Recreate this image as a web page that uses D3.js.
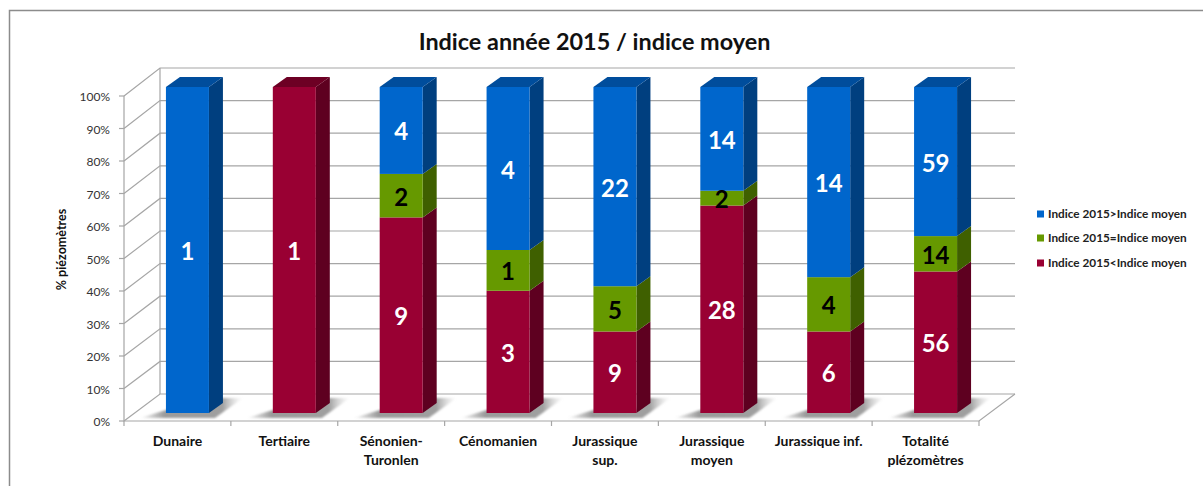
<!DOCTYPE html>
<html><head><meta charset="utf-8">
<script src="https://cdn.jsdelivr.net/npm/d3@7"></script>
<style>html,body{margin:0;background:#fff}svg{display:block}text{font-family:Lato,"Open Sans",sans-serif}</style>
</head><body><svg id="c" width="1203" height="486"></svg>
<script>
const categories=[["Dunaire"],["Tertiaire"],["Sénonien-","Turonlen"],["Cénomanien"],["Jurassique","sup."],["Jurassique","moyen"],["Jurassique inf."],["Totalité","plézomètres"]];
const below=[0,1,9,3,9,28,6,56];
const equal=[0,0,2,1,5,2,4,14];
const above=[1,0,4,4,22,14,14,59];
const ticks=d3.range(0,101,10);
const seriesNames=["Indice 2015<Indice moyen","Indice 2015=Indice moyen","Indice 2015>Indice moyen"];
const colors=["#990033","#669900","#0066cc"];
const sideColors=["#5e0020","#3f6000","#003f7f"];
const topColors=["#6d0024","#4a6f00","#004d9c"];
const legendColors=["#0066cc","#669900","#990033"];
const legendNames=[seriesNames[2],seriesNames[1],seriesNames[0]];
const title="Indice année 2015 / indice moyen";
const yTitle="% piézomètres";

const svg=d3.select("#c");
const rows=categories.map((c,i)=>({i,below:below[i],equal:equal[i],above:above[i]}));
const stack=d3.stack().keys(["below","equal","above"]).offset(d3.stackOffsetExpand)(rows);

const x=d3.scaleBand().domain(d3.range(8)).range([124,979]);
const yFront=d3.scaleLinear().domain([0,100]).range([421,96]);
const yBack=d3.scaleLinear().domain([0,100]).range([394,68]);
const yBar=d3.scaleLinear().domain([0,1]).range([413,87]);
const backDx=36,barDepthX=14,barDepthY=10,barW=43,barShift=10;

// frame
svg.append("path").attr("d","M9.5,486V10.5H1203").attr("fill","none").attr("stroke","#8c8c8c").attr("stroke-width",1.5);

// title
svg.append("text").attr("x",594.5).attr("y",50).attr("text-anchor","middle").attr("font-size",23.4).attr("font-weight",700).attr("fill","#111").text(title);

const grid=svg.append("g").attr("fill","none").attr("stroke","#a6a6a6").attr("stroke-width",1.2);
ticks.forEach(t=>{
  grid.append("path").attr("d",`M124,${yFront(t)}L${124+backDx},${yBack(t)}H${979+backDx}`);
});
grid.append("path").attr("d",`M${124+backDx},${yBack(0)}V${yBack(100)}`);
grid.append("path").attr("d",`M124,${yFront(100)}V421H979L${979+backDx},${yBack(0)}`);

d3.range(9).forEach(i=>{
  const px=124+i*x.step();
  grid.append("line").attr("x1",px).attr("x2",px).attr("y1",421).attr("y2",426);
});
ticks.forEach(t=>grid.append("line").attr("x1",119).attr("x2",124).attr("y1",yFront(t)).attr("y2",yFront(t)));

// floor shadows
const defs=svg.append("defs");
const sg=defs.append("linearGradient").attr("id","sh").attr("x1",0).attr("x2",1).attr("y1",0).attr("y2",0);
sg.append("stop").attr("offset",0).attr("stop-color","#9a9a9a").attr("stop-opacity",0);
sg.append("stop").attr("offset",.24).attr("stop-color","#9a9a9a");
sg.append("stop").attr("offset",.8).attr("stop-color","#a0a0a0");
sg.append("stop").attr("offset",1).attr("stop-color","#d0d0d0").attr("stop-opacity",0);
defs.append("filter").attr("id","bl").append("feGaussianBlur").attr("stdDeviation",1.2);
rows.forEach(r=>{
  const l=x(r.i)+x.bandwidth()/2+barShift-barW/2, rr=l+barW;
  svg.append("path").attr("d",`M${l-26},418H${rr+6}L${rr+34},398H${rr+8}L${rr},410H${l}Z`)
    .attr("fill","url(#sh)").attr("filter","url(#bl)");
});

// bars
stack.forEach((s,k)=>{
  const g=svg.append("g");
  s.forEach((d,i)=>{
    if(d[1]-d[0]<=0) return;
    const l=x(i)+x.bandwidth()/2+barShift-barW/2, r=l+barW, y0=yBar(d[0]), y1=yBar(d[1]);
    g.append("path").attr("d",`M${r},${y0}L${r+barDepthX},${y0-barDepthY}V${y1-barDepthY}L${r},${y1}Z`).attr("fill",sideColors[k]);
    g.append("rect").attr("x",l).attr("y",y1).attr("width",barW).attr("height",y0-y1).attr("fill",colors[k]);
    if(d[1]===1) g.append("path").attr("d",`M${l},${y1}L${l+barDepthX},${y1-barDepthY}H${r+barDepthX}L${r},${y1}Z`).attr("fill",topColors[k]);
  });
});

// labels
const values=[below,equal,above];
stack.forEach((s,k)=>{
  s.forEach((d,i)=>{
    if(d[1]-d[0]<=0) return;
    const cx=x(i)+x.bandwidth()/2+barShift;
    svg.append("text").attr("x",cx).attr("y",(yBar(d[0])+yBar(d[1]))/2+10).attr("text-anchor","middle")
      .attr("font-size",24).attr("font-weight",700).attr("fill",k===1?"#000":"#fff").text(values[k][i]);
  });
});

// y labels
ticks.forEach(t=>svg.append("text").attr("x",110).attr("y",yFront(t)+5).attr("text-anchor","end").attr("font-size",12).attr("fill","#333").text(t+"%"));
svg.append("text").attr("transform","translate(66,249.5) rotate(-90)").attr("text-anchor","middle").attr("font-size",12.5).attr("font-weight",700).attr("fill","#111").text(yTitle);

// category labels
categories.forEach((c,i)=>{
  const t=svg.append("text").attr("text-anchor","middle").attr("font-size",14).attr("font-weight",700).attr("fill","#111");
  c.forEach((ln,j)=>t.append("tspan").attr("x",x(i)+x.bandwidth()/2).attr("y",446+j*18.5).text(ln));
});

// legend
legendNames.forEach((n,i)=>{
  const ly=[214,238,263][i];
  svg.append("rect").attr("x",1037).attr("y",ly-3.5).attr("width",7).attr("height",7).attr("fill",legendColors[i]);
  svg.append("text").attr("x",1048).attr("y",ly+4).attr("font-size",11.8).attr("font-weight",700).attr("fill","#222").text(n);
});
</script></body></html>
